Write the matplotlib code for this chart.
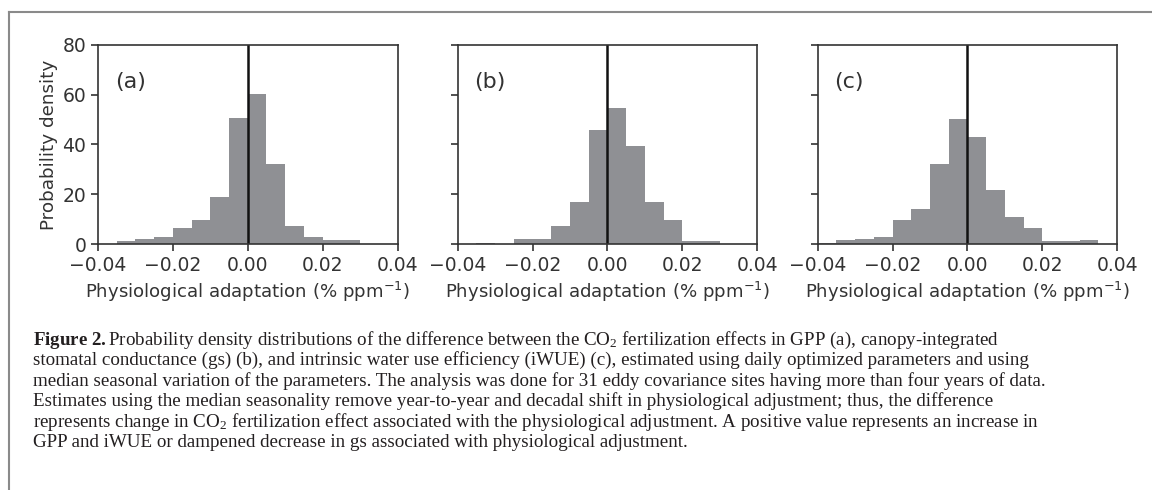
#!/usr/bin/env python3
# Figure 2: histograms of physiological adaptation (a) GPP, (b) gs, (c) iWUE

import numpy as np
import matplotlib
matplotlib.use("Agg")
import matplotlib.pyplot as plt
from matplotlib.lines import Line2D

##################
### Data       ###
##################

bin_edges = [-0.04, -0.035, -0.03, -0.025, -0.02, -0.015, -0.01, -0.005, 0.0,
             0.005, 0.01, 0.015, 0.02, 0.025, 0.03, 0.035, 0.04]
density_gpp = [0, 1.1, 2.0, 2.7, 6.3, 9.7, 19.0, 50.8, 60.2, 32.2, 7.1, 2.9, 1.8, 1.8, 0, 0]
density_gs = [0, 0.4, 0, 1.9, 1.9, 7.2, 16.8, 46.0, 54.6, 39.5, 16.8, 9.8, 1.4, 1.4, 0, 0]
density_iwue = [0.4, 1.5, 2.0, 2.9, 9.8, 13.9, 32.0, 50.4, 43.0, 21.6, 10.9, 6.3, 1.3, 1.2, 1.5, 0]
panel_labels = ["(a)", "(b)", "(c)"]
xticks = [-0.04, -0.02, 0.0, 0.02, 0.04]
xticklabels = ["\u22120.04", "\u22120.02", "0.00", "0.02", "0.04"]
yticks = [0, 20, 40, 60, 80]

caption_lines = [
    r"$\mathbf{Figure\ 2.}$Probability density distributions of the difference between the CO$_2$ fertilization effects in GPP (a), canopy-integrated",
    "stomatal conductance (gs) (b), and intrinsic water use efficiency (iWUE) (c), estimated using daily optimized parameters and using",
    "median seasonal variation of the parameters. The analysis was done for 31 eddy covariance sites having more than four years of data.",
    "Estimates using the median seasonality remove year-to-year and decadal shift in physiological adjustment; thus, the difference",
    r"represents change in CO$_2$ fertilization effect associated with the physiological adjustment. A positive value represents an increase in",
    "GPP and iWUE or dampened decrease in gs associated with physiological adjustment.",
]

##################
### Plotting   ###
##################

plt.rcParams["mathtext.fontset"] = "custom"
plt.rcParams["mathtext.rm"] = "Liberation Serif"
plt.rcParams["mathtext.bf"] = "Liberation Serif:bold"
plt.rcParams["mathtext.it"] = "Liberation Serif:italic"

fig = plt.figure(figsize=(11.52, 4.9), dpi=100)
W, H = 1152.0, 490.0

# frame around figure (only left and top visible)
fig.add_artist(Line2D([8.7 / W, 8.7 / W], [0, 1 - 12.3 / H], transform=fig.transFigure,
                      color="#8a8a8a", lw=1.5))
fig.add_artist(Line2D([8.7 / W, 1], [1 - 12.3 / H, 1 - 12.3 / H], transform=fig.transFigure,
                      color="#8a8a8a", lw=1.5))

lefts = [98, 457.7, 817.7]
all_data = [density_gpp, density_gs, density_iwue]
txtcol = "#333333"

for i, (left, dens, lab) in enumerate(zip(lefts, all_data, panel_labels)):
    ax = fig.add_axes([left / W, 1 - 244 / H, 299.5 / W, 199 / H])
    ax.hist(bin_edges[:-1], bins=bin_edges, weights=dens, color="#8f9094", edgecolor="none")
    ax.axvline(0, color="#111111", lw=1.8)
    ax.set_xlim(-0.04, 0.04)
    ax.set_ylim(0, 80)
    ax.set_xticks(xticks)
    ax.set_xticklabels(xticklabels)
    ax.set_yticks(yticks)
    ax.tick_params(labelsize=13.5, colors=txtcol, length=5, width=1.2)
    for sp in ax.spines.values():
        sp.set_color("#333333")
        sp.set_linewidth(1.2)
    if i == 0:
        ax.set_ylabel("Probability density", fontsize=13.2, color=txtcol, labelpad=3)
    else:
        ax.set_yticklabels([])
    ax.set_xlabel("Physiological adaptation (% ppm$^{-1}$)", fontsize=13.1, color=txtcol,
                  labelpad=4, math_fontfamily="dejavusans")
    ax.text(-0.0355, 65, lab, fontsize=16, color=txtcol, va="center", ha="left")

# caption
y0 = 345
for j, line in enumerate(caption_lines):
    fig.text(33 / W, 1 - (y0 + j * 20.4) / H, line, family="Liberation Serif",
             fontsize=13.7, color="#231f20", va="baseline", ha="left")

plt.savefig("out.png", dpi=100)
plt.close()
